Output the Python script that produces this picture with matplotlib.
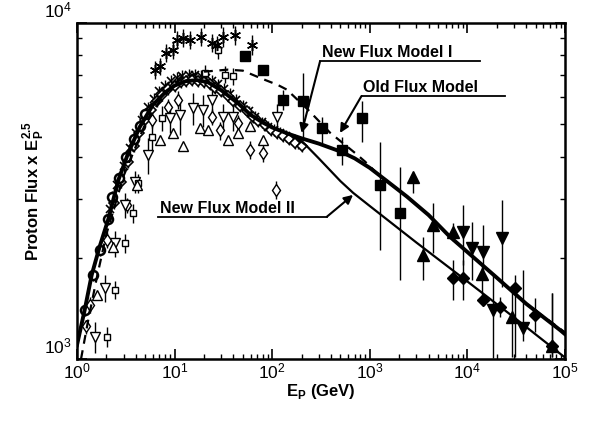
import numpy as np
import matplotlib
matplotlib.use("Agg")
import matplotlib.pyplot as plt
from matplotlib.transforms import ScaledTranslation

plt.rcParams['font.family'] = ['Liberation Sans', 'DejaVu Sans']
plt.rcParams['mathtext.fontset'] = 'custom'
plt.rcParams['mathtext.rm'] = 'Liberation Sans'
plt.rcParams['mathtext.bf'] = 'Liberation Sans:bold'

# model curves
e_m1 = [1.0, 1.2, 1.415, 1.7, 2.09, 2.65, 3.3, 4.4, 6.0, 8.0, 10, 13, 17, 22, 30, 45, 60, 80, 100,
        150, 200, 300, 500, 700, 1000, 1500, 2400, 4000, 6600, 10000, 20000, 40000, 88700, 100000]
f_m1 = [1100, 1400, 1778, 2150, 2600, 3400, 4050, 4900, 5700, 6200, 6500, 6700, 6750, 6650, 6300,
        5750, 5320, 5050, 4880, 4660, 4530, 4370, 4140, 3950, 3700, 3380, 3040, 2680, 2311, 2080,
        1745, 1460, 1220, 1185]

e_m2 = [100, 150, 180, 220, 300, 500, 675, 1000, 3000, 10000, 30000, 100000]
f_m2 = [4880, 4660, 4530, 4330, 3950, 3380, 3119, 2850, 2220, 1700, 1330, 1010]

e_old = [1.1, 1.3, 1.6, 2.0, 3.0, 5.0, 8.0, 12, 20, 35, 50, 80, 114, 141, 233, 391, 705, 892,
         1176, 1500, 2400, 4000, 6600, 10000, 20000, 40000, 100000]
f_old = [1000, 1300, 1750, 2350, 3500, 5000, 6200, 6850, 7150, 7250, 7200, 6800, 6530, 6325,
         5510, 4710, 4100, 3865, 3573, 3380, 3040, 2680, 2311, 2080, 1745, 1460, 1200]

# measurements
e_star = [6.3, 7.1, 8.26, 9.6, 10.5, 12.1, 14.4, 18.7, 23.9, 26.9, 31.3, 41.6, 61.7]
f_star = [7245, 7420, 8150, 8320, 8900, 9020, 8900, 9080, 8710, 8600, 9080, 9160, 8600]
d_star = [450, 450, 500, 500, 550, 550, 550, 550, 550, 550, 600, 600, 600]

e_band = [2.2, 2.6, 3.0, 3.5, 4.0, 4.6, 5.3, 6.1, 7.0, 8.0, 9.2, 10.5, 12, 14, 16, 18.5, 21, 24,
          28, 32, 37, 43, 50, 58, 67, 78, 90, 105, 120, 140, 160, 185]
f_band = [2800, 3300, 3750, 4250, 4700, 5150, 5600, 5950, 6250, 6500, 6700, 6850, 6950, 7000,
          7000, 6950, 6850, 6700, 6550, 6350, 6150, 5900, 5650, 5450, 5250, 5050, 4900, 4800,
          4700, 4600, 4500, 4400]

e_band2 = [2.4, 2.8, 3.3, 3.8, 4.3, 5.0, 5.7, 6.6, 7.5, 8.6, 10, 11.5, 13, 15, 17.5, 20, 23, 26,
           30, 35, 40, 47, 55, 63, 72, 85, 98, 112, 130, 150, 172, 200]
f_band2 = [2900, 3350, 3850, 4300, 4700, 5150, 5500, 5850, 6100, 6350, 6500, 6650, 6700, 6750,
           6700, 6650, 6550, 6400, 6250, 6050, 5850, 5650, 5450, 5250, 5100, 4950, 4800, 4700,
           4600, 4500, 4400, 4300]

e_circ = [1.2, 1.47, 1.72, 2.09, 2.3, 2.7, 3.2, 3.8, 4.4, 5.0]
f_circ = [1400, 1778, 2110, 2600, 3040, 3450, 4000, 4500, 4920, 5360]

e_odia = [1.25, 1.36, 2.01, 3.23, 5.83, 8.6, 10.9, 23.9, 29.1, 44.9, 59.3, 81, 109]
f_odia = [1250, 1448, 2260, 2870, 5150, 5630, 5900, 5250, 4780, 5030, 4190, 4090, 3185]
d_odia = [60, 80, 120, 150, 300, 300, 350, 300, 300, 300, 250, 250, 200]

e_otri = [1.59, 2.36, 4.09, 7.1, 9.7, 12.3, 18.2, 22.2, 35.5, 44.9, 59.3, 81]
f_otri = [1550, 2158, 3297, 4490, 4700, 4290, 4860, 4780, 4490, 4690, 4920, 4490]

e_otrd = [1.53, 1.94, 2.45, 3.1, 3.93, 5.37, 8.97, 11.4, 15.5, 19.7, 23.9, 31.5, 39.8, 111]
f_otrd = [1165, 1623, 2210, 2870, 3370, 4040, 5200, 5320, 5580, 5510, 5900, 5250, 5250, 5250]
d_otrd = [120, 150, 200, 250, 250, 500, 500, 700, 600, 600, 500, 500, 500, 500]

e_osq = [2.01, 2.45, 3.1, 3.78, 4.25, 5.83, 7.4, 20.5, 28, 32.9, 39.8]
f_osq = [1165, 1605, 2210, 2715, 3330, 4580, 5200, 7090, 8320, 7010, 6930]
d_osq = [80, 100, 150, 180, 220, 400, 450, 400, 500, 400, 400]

e_fsq = [52.6, 81.1, 130, 208, 321, 515, 826, 1271, 2037]
f_fsq = [7950, 7245, 5900, 5835, 4860, 4190, 5200, 3297, 2716]
lo_fsq = [250, 250, 400, 1350, 460, 410, 780, 1190, 1000]
hi_fsq = [250, 250, 400, 1265, 380, 380, 640, 1120, 1010]

e_ftru = [2792, 3533, 4478, 7176, 14000, 28400, 74400]
f_ftru = [3488, 2039, 2506, 2393, 1791, 1336, 1093]
lo_ftru = [380, 320, 440, 150, 290, 320, 80]
hi_ftru = [110, 270, 400, 150, 140, 260, 480]

e_ftrd = [9080, 11060, 14300, 18400, 22400, 37400]
f_ftrd = [2393, 2136, 2085, 1399, 2286, 1234]
lo_ftrd = [490, 420, 340, 390, 650, 100]
hi_ftrd = [480, 420, 420, 400, 680, 600]

e_fdia = [7176, 9080, 14550, 21600, 30700, 49300, 73100]
f_fdia = [1738, 1738, 1498, 1431, 1623, 1352, 1093]
lo_fdia = [240, 240, 60, 100, 610, 150, 80]
hi_fdia = [230, 230, 60, 100, 160, 170, 480]

fig = plt.figure(figsize=(5.89, 4.28), dpi=100)
ax = fig.add_axes([0.1307, 0.1612, 0.8286, 0.7858])
ax.set_xscale('log')
ax.set_yscale('log')
ax.set_xlim(1, 1e5)
ax.set_ylim(1e3, 1e4)

eb = dict(ecolor='k', elinewidth=1.0, capsize=0, ls='none', zorder=3)

ax.errorbar(e_star, f_star, yerr=d_star, fmt='none', **eb)
ax.plot(e_star, f_star, ls='none', marker=(6, 2, 0), ms=8, mec='k', mew=1.1, zorder=4)
ax.errorbar(e_band, f_band, yerr=np.array(f_band) * 0.04, fmt='x', ms=6, mec='k', mew=1.2, **eb)
ax.errorbar(e_band2, f_band2, yerr=np.array(f_band2) * 0.04, fmt='D', ms=5.5, mfc='white', mec='k', mew=1.2, **eb)
ax.errorbar(e_circ, f_circ, yerr=np.array(f_circ) * 0.04, fmt='o', ms=6.5, mfc='white', mec='k', mew=1.8, **eb)
ax.errorbar(e_odia, f_odia, yerr=d_odia, fmt='d', ms=6.5, mfc='white', mec='k', mew=1.0, **eb)
ax.plot(e_otri, f_otri, ls='none', marker='^', ms=7, mfc='white', mec='k', mew=1.0, zorder=4)
ax.errorbar(e_otrd, f_otrd, yerr=d_otrd, fmt='v', ms=7, mfc='white', mec='k', mew=1.0, **eb)
ax.errorbar(e_osq, f_osq, yerr=d_osq, fmt='s', ms=4.5, mfc='white', mec='k', mew=1.0, **eb)
ax.errorbar(e_fsq, f_fsq, yerr=[lo_fsq, hi_fsq], fmt='s', ms=6.5, mfc='k', mec='k', **eb)
ax.errorbar(e_ftru, f_ftru, yerr=[lo_ftru, hi_ftru], fmt='^', ms=8, mfc='k', mec='k', **eb)
ax.errorbar(e_ftrd, f_ftrd, yerr=[lo_ftrd, hi_ftrd], fmt='v', ms=8, mfc='k', mec='k', **eb)
ax.errorbar(e_fdia, f_fdia, yerr=[lo_fdia, hi_fdia], fmt='D', ms=6.5, mfc='k', mec='k', **eb)

ax.plot(e_old, f_old, color='k', lw=1.6, ls=(0, (4, 3)), zorder=5)
ax.plot(e_m2, f_m2, color='k', lw=1.6, zorder=5)
ax.plot(e_m1, f_m1, color='k', lw=2.8, zorder=6)

# labels with arrows
txt = dict(transform=ax.transAxes, fontsize=11.5, fontweight='bold', ha='left', va='baseline')
arr = dict(arrowstyle='-|>', color='k', lw=1.5, mutation_scale=13, shrinkA=0, shrinkB=0)

ax.text(0.503, 0.899, 'New Flux Model I', **txt)
ax.plot([0.498, 0.826], [0.885, 0.885], color='k', lw=1.3, transform=ax.transAxes, clip_on=False)
ax.annotate('', xy=(200, 4700), xycoords='data', xytext=(0.498, 0.885),
            textcoords='axes fraction', arrowprops=arr, zorder=7)

ax.text(0.587, 0.794, 'Old Flux Model', **txt)
ax.plot([0.583, 0.877], [0.782, 0.782], color='k', lw=1.3, transform=ax.transAxes, clip_on=False)
ax.annotate('', xy=(495, 4700), xycoords='data', xytext=(0.583, 0.782),
            textcoords='axes fraction', arrowprops=arr, zorder=7)

ax.text(0.170, 0.434, 'New Flux Model II', **txt)
ax.plot([0.166, 0.512], [0.423, 0.423], color='k', lw=1.3, transform=ax.transAxes, clip_on=False)
ax.annotate('', xy=(673, 3076), xycoords='data', xytext=(0.512, 0.423),
            textcoords='axes fraction', arrowprops=arr, zorder=7)

ax.set_xlabel(r'E$_\mathbf{P}$ (GeV)', fontsize=12, fontweight='bold', labelpad=0)
ax.set_ylabel(r'Proton Flux x E$_\mathbf{P}^\mathbf{2.5}$', fontsize=12, fontweight='bold', labelpad=-1)

for s in ax.spines.values():
    s.set_linewidth(1.8)
ax.tick_params(which='both', direction='in', top=True, right=True, labelsize=12.5)
ax.tick_params(which='major', length=7, width=1.2)
ax.tick_params(axis='x', which='major', pad=2)
ax.tick_params(which='minor', length=3.5, width=1.0)
ax.yaxis.set_minor_formatter(matplotlib.ticker.NullFormatter())

# y tick labels sit just above their ticks, as in the original
fig.canvas.draw()
for lab in ax.get_yticklabels():
    lab.set_va('bottom')
    lab.set_transform(lab.get_transform() + ScaledTranslation(0, 2 / 72, fig.dpi_scale_trans))

fig.savefig('out.png', dpi=100)
